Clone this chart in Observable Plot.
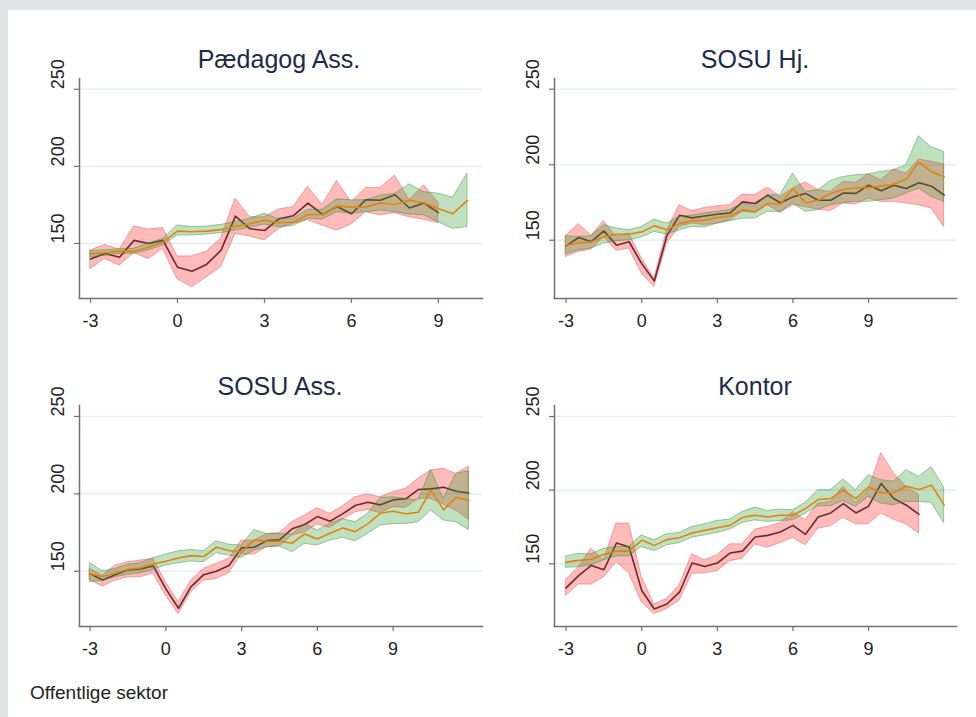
<!DOCTYPE html>
<html>
<head>
<meta charset="utf-8">
<script src="https://cdn.jsdelivr.net/npm/d3@7"></script>
<script src="https://cdn.jsdelivr.net/npm/@observablehq/plot@0.6"></script>
<style>
  body { margin: 0; background: #e2e3e5; }
  #page { position: relative; width: 976px; height: 717px; overflow: hidden; font-family: "Liberation Sans", Arial, sans-serif; }
  #card { position: absolute; left: 8px; top: 10px; right: 0; bottom: 0; background: #fff; }
  .panel { position: absolute; }
  .title { position: absolute; transform: translateX(-50%); font-size: 25px; line-height: 1; color: #1c2b4b; white-space: nowrap; }
  #caption { position: absolute; left: 30px; top: 683px; font-size: 19px; line-height: 1; color: #222; }
</style>
</head>
<body>
<div id="page"><div id="card"></div></div>
<script>
// Half-year periods relative to the event (0)
const periods = [-3, -2.5, -2, -1.5, -1, -0.5, 0, 0.5, 1, 1.5, 2, 2.5, 3, 3.5, 4, 4.5, 5, 5.5, 6, 6.5, 7, 7.5, 8, 8.5, 9, 9.5, 10, 10.5, 11, 11.5, 12];
const xTicks = [-3, 0, 3, 6, 9];
const yTicks = [150, 200, 250];

// Pædagog Ass.
const paedTreat   = [140, 143.5, 141, 152, 150, 152, 134.6, 132, 136.4, 145.5, 167.7, 159.5, 158.4, 166, 168, 176.2, 168.8, 174, 169.3, 178.4, 178, 181.6, 173, 176.2, 170];
const paedTreatLo = [133.5, 140, 135.7, 143.7, 140, 146.5, 126.8, 121.6, 128, 134.6, 156.3, 154.5, 152, 159.5, 162.8, 165, 161.7, 158.4, 162.3, 170.3, 168.2, 169.7, 167, 165.4, 163.2];
const paedTreatHi = [145.5, 149, 146, 161, 159, 160, 141.6, 141.6, 144.6, 153, 179, 167, 167, 172, 173.6, 186.6, 175, 190.5, 176.8, 186, 186, 194, 178, 187.7, 176.4];
const paedCtrl    = [143.3, 144, 145, 145, 147.6, 151, 158, 157.6, 158, 159, 161, 162.8, 165, 163.4, 163.8, 168.8, 168.8, 174.2, 173.6, 173.6, 176.2, 175.3, 178, 176.2, 172.5, 169.3, 178];
const paedCtrlLo  = [141, 142, 143.3, 143.3, 145.5, 148.7, 155.2, 155.2, 155.8, 156.7, 158.4, 160.2, 162.3, 160.6, 161.3, 166, 165.4, 170.3, 169.3, 170.3, 171.4, 170.3, 168.8, 168.2, 163.8, 159.5, 160.6];
const paedCtrlHi  = [145, 145.5, 146.3, 146.5, 150, 153, 161.7, 160.6, 161, 162, 164, 166, 169.3, 165.6, 166, 171.8, 171.8, 178.6, 178, 178, 181, 182.3, 188.3, 183.3, 182.3, 179.6, 195.2];

// SOSU Hj.
const hjTreat   = [146.2, 151.8, 149, 156.2, 146.7, 149, 134.5, 123, 153, 166.5, 164.8, 166, 167.2, 168, 175.4, 174.3, 179.8, 174.7, 178.7, 181, 176.5, 176.5, 181.3, 181, 186.4, 182.7, 186.4, 184.2, 188, 185.8, 179.8];
const hjTreatLo = [139, 142.3, 143.8, 152.2, 143, 144.5, 128, 119, 147.8, 158.8, 161, 160, 161, 163.2, 168.8, 168.1, 173.2, 168.1, 173.2, 172, 170.3, 169.4, 174.3, 173.8, 177.6, 175.4, 175.4, 174.3, 173.2, 171, 158.8];
const hjTreatHi = [153, 160.6, 153, 162.6, 152.2, 154.4, 137.9, 124.6, 156.2, 173.2, 169.2, 171.4, 172.5, 173.2, 180.2, 179.8, 184.9, 178.7, 184.2, 188.4, 183.1, 182, 188.6, 188, 193.7, 189.7, 196.8, 194.2, 203.4, 201.9, 200.1];
const hjCtrl    = [146.7, 148.2, 149, 152.2, 154, 154, 155.5, 159.5, 157, 161, 162.8, 163.2, 165, 166, 169.9, 168.8, 174.3, 173.8, 184.2, 174.7, 176.5, 181, 183.6, 184.7, 184.7, 185.8, 187.1, 190.4, 201.9, 195.3, 192];
const hjCtrlLo  = [140.7, 143.4, 144.5, 147.8, 149.3, 150, 151.8, 155.5, 153.8, 156.6, 158.8, 158.4, 161, 162.6, 164.3, 164.3, 168.8, 168.8, 174.3, 168.8, 169.9, 173.2, 174.7, 175.4, 175.4, 176.5, 177.6, 180.9, 184.2, 178.7, 175.4];
const hjCtrlHi  = [152.6, 152.2, 152.6, 160, 157.7, 156.6, 158.8, 163.7, 161, 165.5, 166.3, 167.7, 168.8, 169.9, 174.3, 172.5, 179.8, 179.8, 194.2, 182, 183.1, 189.3, 191.9, 193, 193.5, 195.3, 196.4, 199.7, 218.9, 211.4, 208.5];

// SOSU Ass.
const assTreat   = [148.3, 144.4, 147.8, 150.9, 151.5, 153.4, 138.6, 126.1, 140.1, 147.8, 150, 153.7, 165.1, 165.5, 169.8, 170.3, 177.4, 180.2, 185.3, 182.3, 187.1, 192.5, 194.6, 192.9, 196.1, 196.8, 202.8, 203.2, 204.3, 201.7, 200.6];
const assTreatLo = [144.4, 140.1, 144, 146.1, 146.1, 148.7, 134.3, 122.4, 136.4, 144, 145, 148.7, 160.8, 160.8, 165.5, 166, 173.1, 175.2, 180.2, 178, 183.2, 188.1, 189.7, 187.5, 191.4, 190.9, 196.8, 196.8, 193.1, 189.2, 183.2];
const assTreatHi = [151.5, 147.2, 153.7, 155.8, 156.9, 158, 142.9, 130, 144, 151.5, 154.7, 158, 169.8, 169.8, 174.1, 174.6, 181.7, 186, 190.7, 187.1, 191.8, 197.8, 199.6, 197.8, 201.1, 203.2, 209.7, 215.1, 216.2, 212.9, 217.7];
const assCtrl    = [148.3, 146.6, 148.7, 151.3, 152.2, 154.7, 156.5, 158.6, 160.1, 159.5, 165.5, 163.4, 162.3, 170.3, 169.4, 169.4, 168.1, 174.1, 170.9, 174.6, 178, 175.6, 180.6, 187.5, 188.8, 187.1, 188.1, 202.6, 189.7, 197.8, 195.7];
const assCtrlLo  = [142.9, 144, 146.1, 147.8, 148.7, 150.9, 153.7, 155.2, 156.3, 155.8, 161.6, 160.1, 158.6, 163.4, 165.5, 166.1, 162.3, 167.7, 166.6, 169.8, 171.6, 169.4, 174.1, 179.5, 180.6, 180.6, 181.7, 189.2, 182.8, 181.7, 176.7];
const assCtrlHi  = [155.2, 150, 151.5, 154.3, 155.2, 158.4, 160.8, 162.9, 163.8, 162.9, 169.4, 167.2, 166.6, 176.7, 174.1, 174.1, 173.7, 180.6, 176.3, 180.6, 183.8, 181.7, 187.1, 197.4, 197.8, 196.8, 195.7, 215.5, 196.8, 212.9, 214.7];

// Kontor
const konTreat   = [133.6, 142, 148.9, 145.9, 164.1, 161.4, 131.8, 119.3, 122.7, 130.7, 150.5, 148.2, 150.5, 157.3, 158.6, 168.2, 169.3, 171.6, 176.1, 170, 181.8, 184.5, 190.9, 184.5, 189.1, 204.5, 194.3, 189.8, 183.6];
const konTreatLo = [128.4, 135.9, 135.9, 140.9, 151.1, 143.6, 123.9, 115.9, 119.3, 125, 143.2, 143.6, 145, 151.8, 153.4, 163.2, 160.9, 164.1, 167.7, 162.5, 173.9, 175.5, 181.4, 176.8, 176.8, 184.1, 180, 176.8, 170.5];
const konTreatHi = [139.1, 147.7, 160.2, 152.3, 177.3, 177.3, 140.9, 122.3, 126.1, 135.2, 156.4, 152.3, 155.7, 163.2, 163.2, 173.2, 175, 177.7, 185.2, 179.5, 190.9, 192, 202.3, 191.4, 200, 225, 211.4, 202.3, 196.6];
const konCtrl    = [151.1, 152.3, 153, 156.4, 158.6, 158.6, 165.9, 162.5, 166.4, 167.7, 170.9, 172.7, 174.5, 176.1, 181.4, 183, 181.8, 183, 183, 187.5, 193.6, 194.3, 200, 194.3, 202.3, 198.2, 198.2, 202.7, 200.5, 203.4, 189.8];
const konCtrlLo  = [147.3, 147.7, 148.9, 152.3, 155, 155, 161.4, 158.6, 162.5, 164.1, 167.7, 169.3, 170.9, 173.2, 177.7, 179.5, 178.4, 179.1, 179.5, 184.1, 189.1, 189.1, 192.7, 188.6, 195.5, 190.9, 189.8, 192, 192, 191.4, 177.7];
const konCtrlHi  = [155, 156.8, 156.4, 160.2, 161.4, 161.4, 169.3, 165.9, 170, 170.9, 175, 176.8, 179.1, 180, 185.2, 188.2, 185.9, 186.8, 186.4, 191.4, 200, 200, 207.3, 200, 210.2, 206.8, 205.7, 213.6, 209.1, 215.5, 201.8];

function rows(v, lo, hi) {
  return v.map((d, i) => ({t: periods[i], v: d, lo: lo[i], hi: hi[i]}));
}

function panel(p) {
  const treat = rows(p.treat, p.treatLo, p.treatHi);
  const ctrl = rows(p.ctrl, p.ctrlLo, p.ctrlHi);
  const svg = Plot.plot({
    width: p.width,
    height: p.height,
    marginLeft: p.ml, marginTop: p.mt, marginRight: p.mr, marginBottom: p.mb,
    x: {domain: p.xDomain, label: null},
    y: {domain: p.yDomain, label: null},
    style: {fontFamily: '"Liberation Sans", Arial, sans-serif', color: "#222", background: "transparent", overflow: "visible"},
    marks: [
      Plot.ruleY(yTicks, {stroke: "#e2eef1", strokeWidth: 1.5}),
      Plot.areaY(treat, {x: "t", y1: "lo", y2: "hi", fill: "#ff4a4a", fillOpacity: 0.38, stroke: "#ee6a6a", strokeOpacity: 0.6, strokeWidth: 1}),
      Plot.line(treat, {x: "t", y: "v", stroke: "#6b2b30", strokeWidth: 1.6}),
      Plot.areaY(ctrl, {x: "t", y1: "lo", y2: "hi", fill: "#2e9a2e", fillOpacity: 0.3, stroke: "#2e8b2e", strokeOpacity: 0.45, strokeWidth: 1}),
      Plot.line(ctrl, {x: "t", y: "v", stroke: "#e2830f", strokeWidth: 1.6}),
      Plot.frame({anchor: "left", stroke: "#707070", strokeWidth: 1.5}),
      Plot.frame({anchor: "bottom", stroke: "#707070", strokeWidth: 1.5}),
      Plot.axisX(xTicks, {tickSize: 5, tickPadding: 11, fontSize: 18, label: null, tickFormat: d => String(d), stroke: "#707070", strokeWidth: 1.2}),
      Plot.axisY(yTicks, {tickSize: 5, label: null, tickFormat: () => "", stroke: "#707070", strokeWidth: 1.2}),
      Plot.text(yTicks, {y: d => d, text: d => String(d), frameAnchor: "left", dx: -21, rotate: -90, fontSize: 18, fill: "#222"})
    ]
  });
  const wrap = document.createElement("div");
  wrap.className = "panel";
  wrap.style.left = p.left + "px";
  wrap.style.top = p.top + "px";
  wrap.appendChild(svg);
  document.getElementById("page").appendChild(wrap);

  const t = document.createElement("div");
  t.className = "title";
  t.textContent = p.title;
  t.style.left = p.titleX + "px";
  t.style.top = p.titleY + "px";
  document.getElementById("page").appendChild(t);
}

panel({title: "Pædagog Ass.", titleX: 279, titleY: 47,
  treat: paedTreat, treatLo: paedTreatLo, treatHi: paedTreatHi,
  ctrl: paedCtrl, ctrlLo: paedCtrlLo, ctrlHi: paedCtrlHi,
  left: 0, top: 0, width: 490, height: 340, ml: 79, mt: 78, mr: 8, mb: 42,
  xDomain: [-3.38, 10.52], yDomain: [114.3, 257]});

panel({title: "SOSU Hj.", titleX: 755, titleY: 47,
  treat: hjTreat, treatLo: hjTreatLo, treatHi: hjTreatHi,
  ctrl: hjCtrl, ctrlLo: hjCtrlLo, ctrlHi: hjCtrlHi,
  left: 490, top: 0, width: 486, height: 340, ml: 64, mt: 78, mr: 20, mb: 42,
  xDomain: [-3.46, 12.49], yDomain: [111.4, 257.1]});

panel({title: "SOSU Ass.", titleX: 280, titleY: 374,
  treat: assTreat, treatLo: assTreatLo, treatHi: assTreatHi,
  ctrl: assCtrl, ctrlLo: assCtrlLo, ctrlHi: assCtrlHi,
  left: 0, top: 340, width: 490, height: 330, ml: 79, mt: 65, mr: 8, mb: 44,
  xDomain: [-3.42, 12.54], yDomain: [114.3, 257.1]});

panel({title: "Kontor", titleX: 755, titleY: 374,
  treat: konTreat, treatLo: konTreatLo, treatHi: konTreatHi,
  ctrl: konCtrl, ctrlLo: konCtrlLo, ctrlHi: konCtrlHi,
  left: 490, top: 340, width: 486, height: 330, ml: 64, mt: 65, mr: 20, mb: 44,
  xDomain: [-3.46, 12.49], yDomain: [107.4, 257.5]});

const cap = document.createElement("div");
cap.id = "caption";
cap.textContent = "Offentlige sektor";
document.getElementById("page").appendChild(cap);
</script>
</body>
</html>
